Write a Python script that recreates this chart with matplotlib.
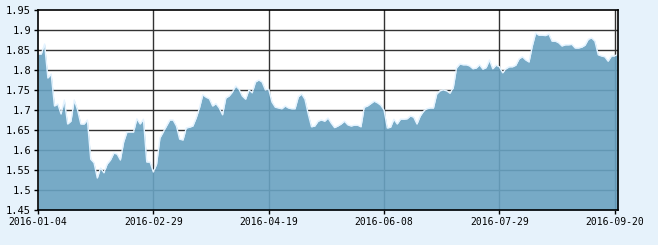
import matplotlib
matplotlib.use("Agg")
import matplotlib.pyplot as plt

# ----------------------------
# Data (one value per trading day)
# ----------------------------

nav = [
    1.840, 1.840, 1.865, 1.780, 1.790, 1.710, 1.715, 1.690, 1.725, 1.665,
    1.672, 1.725, 1.700, 1.665, 1.665, 1.675, 1.577, 1.568, 1.530, 1.555,
    1.543, 1.565, 1.575, 1.592, 1.590, 1.575, 1.620, 1.645, 1.645, 1.645,
    1.678, 1.665, 1.677, 1.570, 1.570, 1.545, 1.565, 1.630, 1.645, 1.660,
    1.675, 1.675, 1.660, 1.627, 1.625, 1.655, 1.657, 1.660, 1.680, 1.705,
    1.738, 1.732, 1.728, 1.710, 1.716, 1.705, 1.688, 1.730, 1.735, 1.745,
    1.760, 1.752, 1.735, 1.727, 1.750, 1.743, 1.770, 1.775, 1.770, 1.750,
    1.752, 1.720, 1.707, 1.705, 1.703, 1.710, 1.705, 1.703, 1.703, 1.733,
    1.740, 1.727, 1.690, 1.658, 1.660, 1.672, 1.675, 1.672, 1.680, 1.667,
    1.656, 1.660, 1.665, 1.672, 1.663, 1.660, 1.662, 1.662, 1.658, 1.707,
    1.710, 1.716, 1.722, 1.718, 1.712, 1.700, 1.655, 1.657, 1.677, 1.665,
    1.677, 1.677, 1.678, 1.685, 1.682, 1.665, 1.685, 1.697, 1.703, 1.705,
    1.705, 1.740, 1.748, 1.750, 1.748, 1.742, 1.755, 1.805, 1.815, 1.813,
    1.813, 1.810, 1.803, 1.805, 1.813, 1.802, 1.806, 1.825, 1.803, 1.812,
    1.808, 1.793, 1.803, 1.808, 1.808, 1.812, 1.828, 1.833, 1.825, 1.820,
    1.860, 1.892, 1.887, 1.887, 1.886, 1.890, 1.872, 1.872, 1.868, 1.860,
    1.863, 1.863, 1.864, 1.855, 1.855, 1.857, 1.862, 1.877, 1.880, 1.872,
    1.838, 1.835, 1.833, 1.822, 1.835, 1.835, 1.840,
]

tick_pos = [0, 35, 70, 105, 140, 175]
tick_labels = ["2016-01-04", "2016-02-29", "2016-04-19",
               "2016-06-08", "2016-07-29", "2016-09-20"]
y_ticks = [1.45, 1.5, 1.55, 1.6, 1.65, 1.7, 1.75, 1.8, 1.85, 1.9, 1.95]

# ----------------------------
# Figure
# ----------------------------

fig = plt.figure(figsize=(6.58, 2.45), dpi=100, facecolor="#e6f2fb")
ax = fig.add_axes([38 / 658, 1 - 210 / 245, 580 / 658, 200 / 245])
ax.set_facecolor("white")

x = list(range(len(nav)))

# grid behind the area
for yv in y_ticks[1:-1]:
    ax.axhline(yv, color="#333333", lw=1, zorder=1)
for xv in tick_pos[1:]:
    ax.axvline(xv, color="#333333", lw=1, zorder=1)

ax.fill_between(x, 1.45, nav, color=(105 / 255, 162 / 255, 193 / 255),
                alpha=0.91, lw=0, zorder=2)
ax.plot(x, nav, color="#e4f3ff", lw=1.0, zorder=3)

ax.set_xlim(0, len(nav) - 1)
ax.set_ylim(1.45, 1.95)

ax.set_xticks(tick_pos)
ax.set_xticklabels(tick_labels)
ax.set_yticks(y_ticks)
ax.set_yticklabels([f"{v:g}" for v in y_ticks])

ax.tick_params(axis="x", labelsize=7, length=3, width=1, pad=2)
ax.tick_params(axis="y", labelsize=7.5, length=3, width=1, pad=2)
for lbl in ax.get_xticklabels() + ax.get_yticklabels():
    lbl.set_family("DejaVu Sans Mono")

for side in ["top", "bottom", "left", "right"]:
    ax.spines[side].set_color("black")
    ax.spines[side].set_linewidth(1.2)
    ax.spines[side].set_zorder(5)

fig.savefig("out.png", dpi=100, facecolor=fig.get_facecolor())
